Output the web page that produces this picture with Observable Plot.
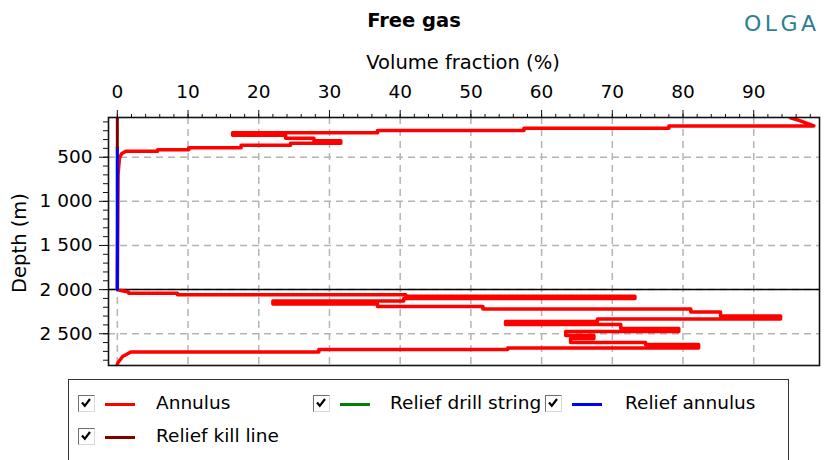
<!DOCTYPE html>
<html>
<head>
<meta charset="utf-8">
<script src="https://cdn.jsdelivr.net/npm/d3@7"></script>
<script src="https://cdn.jsdelivr.net/npm/@observablehq/plot@0.6"></script>
<style>
  html, body { margin: 0; padding: 0; background: #fff; }
  #wrap { position: relative; width: 826px; height: 460px; overflow: hidden; font-family: "DejaVu Sans", sans-serif; color: #000; }
  #chart { position: absolute; left: 0; top: 0; }
  .t { position: absolute; white-space: nowrap; }
  #legend { position: absolute; left: 68px; top: 379px; width: 721px; height: 100px; border: 1px solid #333; box-sizing: border-box; }
  .item { position: absolute; height: 20px; }
  .cb { position: absolute; width: 17px; height: 17px; border: 1.5px solid #707070; border-right-color: #d8d8d8; border-bottom-color: #d8d8d8; box-sizing: border-box; background: #fff; overflow: hidden; }
  .cb svg { position: absolute; left: 1px; top: 1px; }
  .sw { position: absolute; height: 3px; width: 30px; }
  .lb { position: absolute; font-size: 18.5px; white-space: nowrap; }
</style>
</head>
<body>
<div id="wrap">
  <div id="chart"></div>
  <div class="t" id="title" style="left:414px; top:20px; transform:translate(-50%,-50%); font-weight:bold; font-size:19.5px;">Free gas</div>
  <div class="t" id="olga" style="left:744px; top:23px; transform:translateY(-50%); font-size:22px; letter-spacing:3.5px; color:#2e7f8e;">OLGA</div>
  <div class="t" id="xlabel" style="left:463px; top:62px; transform:translate(-50%,-50%); font-size:19.5px;">Volume fraction (%)</div>
  <div class="t" id="ylabel" style="left:19px; top:243px; transform:translate(-50%,-50%) rotate(-90deg); font-size:19.5px;">Depth (m)</div>
  <div id="legend"></div>
</div>
<script>
// ---- data ----
const annulusDepth = [54, 88, 145, 145, 171, 171, 196, 196, 224, 224, 252, 252, 286, 286, 314, 314, 343, 343, 365, 365, 394, 394, 416, 416, 433, 433, 462, 507, 597, 710, 1955,
  2000, 2011, 2028, 2040, 2040, 2057, 2057, 2074, 2074, 2102, 2102, 2130, 2130, 2164, 2164, 2192, 2192, 2221, 2221, 2255, 2255, 2300, 2300, 2334, 2334, 2362, 2362, 2396, 2396, 2441, 2441, 2475, 2475, 2520, 2520, 2554, 2554, 2600, 2600, 2622, 2622, 2662, 2662, 2679, 2679, 2707, 2707, 2758, 2826, 2848];
const annulusFrac = [95.2, 96.6, 98.5, 78.0, 78.0, 57.5, 57.5, 36.8, 36.8, 16.3, 16.3, 23.8, 23.8, 27.8, 27.8, 31.6, 31.6, 24.5, 24.5, 17.5, 17.5, 10.1, 10.1, 5.7, 5.7, 1.2, 0.6, 0.3, 0.2, 0.1, 0.0,
  0.0, 0.5, 1.6, 1.6, 8.5, 8.5, 40.8, 40.8, 73.2, 73.2, 40.5, 40.5, 22.0, 22.0, 36.8, 36.8, 51.7, 51.7, 81.1, 81.1, 85.3, 85.3, 93.8, 93.8, 67.9, 67.9, 54.9, 54.9, 71.2, 71.2, 79.4, 79.4, 63.4, 63.4, 67.4, 67.4, 64.1, 64.1, 74.7, 74.7, 82.2, 82.2, 55.2, 55.2, 28.5, 28.5, 1.9, 0.75, 0.1, 0.0];
const drillStringDepth = [390, 2000];
const drillStringFrac = [0, 0];
const reliefAnnulusDepth = [390, 2000];
const reliefAnnulusFrac = [0, 0];
const killLineDepth = [50, 390];
const killLineFrac = [0, 0];
const markerDepth = [2000];

const xTicks = [0, 10, 20, 30, 40, 50, 60, 70, 80, 90];
const xMinorTicks = d3.range(0, 100, 2);
const yTicks = [500, 1000, 1500, 2000, 2500];
const yTickLabels = ["500", "1 000", "1 500", "2 000", "2 500"];
const yMinorTicks = d3.range(100, 2900, 100);

const seriesNames = ["Annulus", "Relief drill string", "Relief annulus", "Relief kill line"];
const seriesColors = ["#ff0000", "#008000", "#0000ff", "#800000"];

// ---- build ----
const toRows = (fr, dp) => fr.map((v, i) => ({v, d: dp[i]}));
const annulus = toRows(annulusFrac, annulusDepth);
const drill = toRows(drillStringFrac, drillStringDepth);
const relAnn = toRows(reliefAnnulusFrac, reliefAnnulusDepth);
const kill = toRows(killLineFrac, killLineDepth);
const yLab = new Map(yTicks.map((t, i) => [t, yTickLabels[i]]));

const chart = Plot.plot({
  width: 826,
  height: 370,
  marginTop: 117,
  marginBottom: 5,
  marginLeft: 108,
  marginRight: 7,
  style: {fontFamily: "DejaVu Sans, sans-serif", fontSize: "18.5px", color: "#000", background: "transparent", overflow: "visible"},
  x: {domain: [-1.25, 99.3]},
  y: {domain: [50, 2860], reverse: true},
  marks: [
    Plot.gridX(xTicks, {stroke: "#b4b4b4", strokeOpacity: 1, strokeWidth: 1.5, strokeDasharray: "7,5"}),
    Plot.gridY(yTicks, {stroke: "#b4b4b4", strokeOpacity: 1, strokeWidth: 1.5, strokeDasharray: "7,5"}),
    Plot.ruleY(markerDepth, {stroke: "#000", strokeWidth: 1.5}),
    Plot.line(annulus, {x: "v", y: "d", stroke: seriesColors[0], strokeWidth: 3.5, clip: true}),
    Plot.line(drill, {x: "v", y: "d", stroke: seriesColors[1], strokeWidth: 3, clip: true}),
    Plot.line(relAnn, {x: "v", y: "d", stroke: seriesColors[2], strokeWidth: 3, clip: true}),
    Plot.line(kill, {x: "v", y: "d", stroke: seriesColors[3], strokeWidth: 3, clip: true}),
    Plot.frame({stroke: "#111", strokeWidth: 1.6}),
    Plot.axisX(xMinorTicks, {anchor: "top", tickSize: 4, tickFormat: () => "", label: null, stroke: "#111"}),
    Plot.axisX(xTicks, {anchor: "top", tickSize: 8, tickPadding: 12, label: null, stroke: "#111"}),
    Plot.axisY(yMinorTicks, {anchor: "left", tickSize: 5, tickFormat: () => "", label: null, stroke: "#111"}),
    Plot.axisY(yTicks, {anchor: "left", tickSize: 9, tickPadding: 7, tickFormat: d => yLab.get(d), label: null, stroke: "#111"})
  ]
});
document.getElementById("chart").appendChild(chart);

// legend
const legend = document.getElementById("legend");
const pos = [[9, 24], [244, 24], [476, 24], [9, 57]];
const swOff = 27;
const checkSvg = '<svg width="12" height="12" viewBox="0 0 12 12"><path d="M2 5.5 L4.8 8.8 L10 2" fill="none" stroke="#000" stroke-width="2.2"/></svg>';
seriesNames.forEach((name, i) => {
  const [lx, ly] = pos[i];
  const it = document.createElement("div");
  it.className = "item";
  it.style.left = lx + "px";
  it.style.top = ly + "px";
  const cb = document.createElement("div");
  cb.className = "cb";
  cb.style.left = "0px"; cb.style.top = "-9px";
  cb.innerHTML = checkSvg;
  const sw = document.createElement("div");
  sw.className = "sw";
  sw.style.left = swOff + "px"; sw.style.top = "-1.5px";
  sw.style.background = seriesColors[i];
  const lb = document.createElement("div");
  lb.className = "lb";
  lb.style.left = (i === 0 || i === 3 ? 78 : (i === 1 ? 77 : 80)) + "px";
  lb.style.top = "-12px";
  lb.textContent = name;
  it.appendChild(cb); it.appendChild(sw); it.appendChild(lb);
  legend.appendChild(it);
});
</script>
</body>
</html>
